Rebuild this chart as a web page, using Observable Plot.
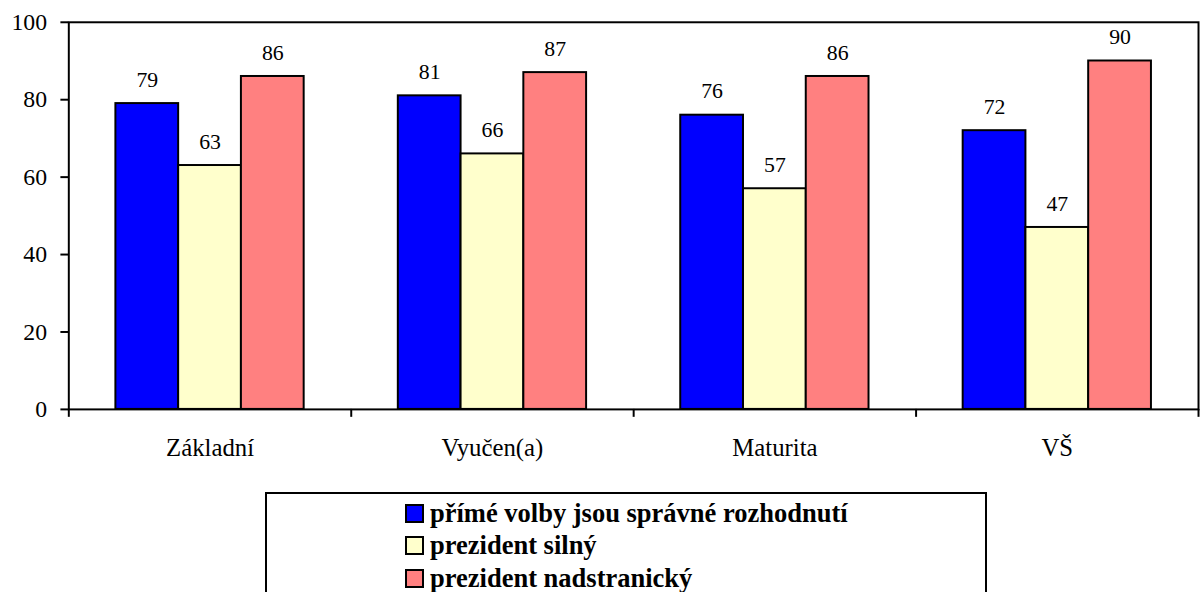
<!DOCTYPE html>
<html>
<head>
<meta charset="utf-8">
<script src="https://cdn.jsdelivr.net/npm/d3@7"></script>
<script src="https://cdn.jsdelivr.net/npm/@observablehq/plot@0.6"></script>
<style>
  html, body { margin: 0; padding: 0; background: #fff; overflow: hidden; }
  #wrap { position: relative; width: 1200px; height: 592px; overflow: hidden; }
  #chart { position: absolute; left: 0; top: 0; }
  #legend {
    position: absolute; left: 265px; top: 492px; width: 722px; height: 140px;
    border: 2px solid #000; box-sizing: border-box; background: #fff;
    font-family: "Liberation Serif", "Times New Roman", serif; font-weight: bold; font-size: 26.5px;
    padding-top: 3px;
  }
  .row { display: flex; align-items: center; height: 32.5px; padding-left: 138px; }
  .sw { width: 15px; height: 15px; border: 2px solid #000; margin-right: 6px; flex: none; }
</style>
</head>
<body>
<div id="wrap">
  <div id="chart"></div>
  <div id="legend"></div>
</div>
<script>
const categories = ["Základní", "Vyučen(a)", "Maturita", "VŠ"];
const series = ["přímé volby jsou správné rozhodnutí", "prezident silný", "prezident nadstranický"];
const primeVolby = [79, 81, 76, 72];
const silny = [63, 66, 57, 47];
const nadstranicky = [86, 87, 86, 90];
const colors = ["#0000FF", "#FFFFCC", "#FF8080"];
const yTicks = [0, 20, 40, 60, 80, 100];

const seriesValues = [primeVolby, silny, nadstranicky];
const rows = [];
categories.forEach((cat, gi) => {
  seriesValues.forEach((vals, si) => {
    rows.push({cat, gi, si, series: series[si], value: vals[gi]});
  });
});

// Excel-like clustered bars: gap width 150% of a bar
const w = 1 / (series.length + 1.5);
const off = (1 - series.length * w) / 2;
const font = '"Liberation Serif", "Times New Roman", serif';

const plot = Plot.plot({
  width: 1212,
  height: 478,
  marginLeft: 69,
  marginRight: 2,
  marginTop: 22,
  marginBottom: 65,
  style: {fontFamily: font, fontSize: "24px", background: "#fff", color: "#000"},
  x: {type: "linear", domain: [0, categories.length], axis: null},
  y: {domain: [0, 100], axis: null},
  color: {domain: series, range: colors},
  marks: [
    Plot.rectY(rows, {
      x1: d => d.gi + off + d.si * w,
      x2: d => d.gi + off + (d.si + 1) * w,
      y: "value",
      fill: "series",
      stroke: "#000",
      strokeWidth: 2
    }),
    Plot.text(rows, {
      x: d => d.gi + off + (d.si + 0.5) * w,
      y: "value",
      text: d => String(d.value),
      lineAnchor: "bottom",
      dy: -17,
      fontSize: 22,
      fontFamily: font,
      fill: "#000"
    }),
    Plot.frame({stroke: "#000", strokeWidth: 2}),
    Plot.axisY({ticks: yTicks, label: null, tickSize: 8, tickPadding: 14, fontSize: 24, fontFamily: font, strokeWidth: 2, stroke: "#000", fill: "#000"}),
    Plot.axisX({ticks: d3.range(categories.length + 1), label: null, tickSize: 8, tickFormat: () => "", strokeWidth: 2, stroke: "#000"}),
    Plot.axisX({ticks: categories.map((c, i) => i + 0.5), label: null, tickSize: 0, tickPadding: 29, tickFormat: d => categories[Math.floor(d)], fontSize: 25, fontFamily: font, fill: "#000"})
  ]
});
document.getElementById("chart").appendChild(plot);

const legend = document.getElementById("legend");
series.forEach((s, i) => {
  const row = document.createElement("div");
  row.className = "row";
  const sw = document.createElement("div");
  sw.className = "sw";
  sw.style.background = colors[i];
  const t = document.createElement("span");
  t.textContent = s;
  row.appendChild(sw);
  row.appendChild(t);
  legend.appendChild(row);
});
</script>
</body>
</html>
